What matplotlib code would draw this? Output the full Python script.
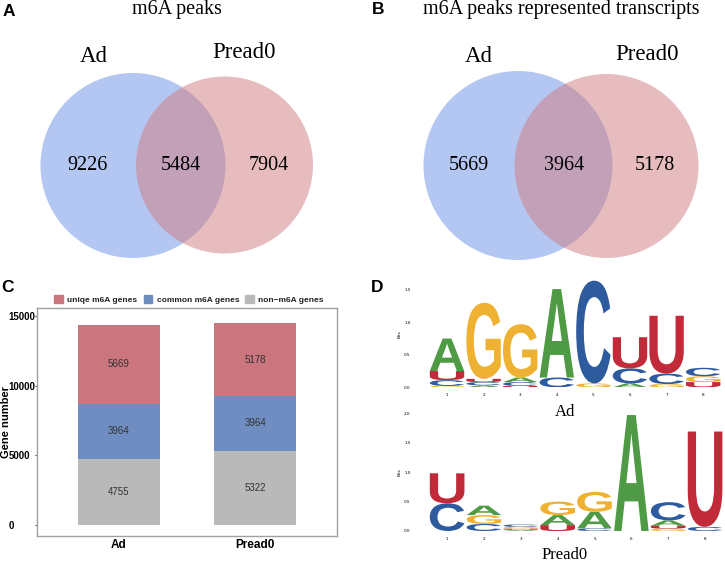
import numpy as np
import matplotlib
matplotlib.use("Agg")
import matplotlib.pyplot as plt
from matplotlib.patches import Circle, PathPatch, Patch
from matplotlib.textpath import TextPath
from matplotlib.font_manager import FontProperties
from matplotlib.transforms import Affine2D

# venn counts: only first set, shared, only second set
venn_sets = ["Ad", "Pread0"]
peaks = [9226, 5484, 7904]
transcripts = [5669, 3964, 5178]

# stacked bar (panel C)
groups = ["Ad", "Pread0"]
non_m6a = [4755, 5322]
common_m6a = [3964, 3964]
uniq_m6a = [5669, 5178]

# motif logos (panel D), bits per letter at positions 1..8
positions = [1, 2, 3, 4, 5, 6, 7, 8]
ad_A = [0.50, 0.03, 0.07, 1.36, 0.00, 0.06, 0.00, 0.00]
ad_C = [0.09, 0.05, 0.06, 0.15, 1.58, 0.23, 0.16, 0.13]
ad_G = [0.02, 1.17, 0.82, 0.00, 0.06, 0.00, 0.05, 0.09]
ad_U = [0.14, 0.05, 0.02, 0.00, 0.00, 0.48, 0.89, 0.08]
pre_A = [0.00, 0.16, 0.02, 0.17, 0.28, 1.97, 0.09, 0.00]
pre_C = [0.47, 0.12, 0.04, 0.00, 0.045, 0.00, 0.31, 0.07]
pre_G = [0.00, 0.15, 0.03, 0.23, 0.34, 0.00, 0.04, 0.00]
pre_U = [0.51, 0.00, 0.02, 0.10, 0.00, 0.00, 0.05, 1.62]

W, H = 725, 563
fig = plt.figure(figsize=(W / 100, H / 100), dpi=100)
SERIF = "Liberation Serif"
SANS = "Liberation Sans"

VENN_BLUE = "#b4c7f2"
VENN_RED = "#d17b7f"
BAR_RED = "#cb757e"
BAR_BLUE = "#6f8dc0"
BAR_GRAY = "#b9b9b9"
LOGO_COLORS = {"A": "#4f9a45", "C": "#2e5a9e", "G": "#efb132", "U": "#c12a39"}


def px_axes(x0, y0, x1, y1):
    return fig.add_axes([x0 / W, 1 - y1 / H, (x1 - x0) / W, (y1 - y0) / H])


def venn(x0, counts, title, c1, r1, c2, r2, lab1, lab2, num_x, title_x):
    ax = px_axes(x0, 0, x0 + 362, 280)
    ax.set_xlim(0, 362)
    ax.set_ylim(280, 0)
    ax.axis("off")
    ax.add_patch(Circle(c1, r1, fc=VENN_BLUE, ec="none"))
    ax.add_patch(Circle(c2, r2, fc=VENN_RED, alpha=0.5, ec="none"))
    ax.text(title_x, 14, title, family=SERIF, fontsize=14.5, ha="center", va="baseline")
    ax.text(*lab1, venn_sets[0], family=SERIF, fontsize=16.5, ha="center", va="center")
    ax.text(*lab2, venn_sets[1], family=SERIF, fontsize=16.5, ha="center", va="center")
    for xx, n in zip(num_x, counts):
        ax.text(xx, 166, str(n), family=SERIF, fontsize=14.5, ha="center", va="center")


venn(0, peaks, "m6A peaks", (133, 165.5), 92.5, (224.5, 165), 88.5,
     (94, 57), (244, 53), [88, 181, 269], 177)
venn(362, transcripts, "m6A peaks represented transcripts", (156, 165.5), 94.5,
     (244.5, 166), 92, (116.7, 56), (285, 55), [107.3, 201.7, 293.3], 199)

# ---- panel C ----
ax = px_axes(36.7, 308.3, 337.3, 536)
x = np.arange(1, len(groups) + 1)
bottom2 = np.array(non_m6a)
bottom3 = bottom2 + np.array(common_m6a)
b1 = ax.bar(x, non_m6a, 0.6, color=BAR_GRAY)
b2 = ax.bar(x, common_m6a, 0.6, bottom=bottom2, color=BAR_BLUE)
b3 = ax.bar(x, uniq_m6a, 0.6, bottom=bottom3, color=BAR_RED)
for bars in (b1, b2, b3):
    ax.bar_label(bars, label_type="center", fontsize=7, color="#333333", family=SANS)
ax.set_xlim(0.4, 2.6)
ax.set_ylim(-789, 15553)
ax.set_xticks(x)
ax.set_xticklabels(groups, fontsize=8.5, fontweight="bold", family=SANS)
ax.set_yticks([0, 5000, 10000, 15000])
ax.set_yticklabels(["0", "5000", "10000", "15000"], fontsize=7, fontweight="bold", family=SANS)
for lab in ax.get_yticklabels():
    lab.set_horizontalalignment("left")
ax.tick_params(axis="y", length=1.5, width=0.8, color="#555555", pad=19)
ax.tick_params(axis="x", length=0, pad=2)
for sp in ax.spines.values():
    sp.set_color("#a0a0a0")
    sp.set_linewidth(1.0)
ax.set_ylabel("Gene number", fontsize=8, fontweight="bold", family=SANS)
ax.yaxis.label.set_verticalalignment("center")
ax.yaxis.set_label_coords(-0.103, 0.5)
handles = [Patch(color=BAR_RED, label="uniqe m6A genes"),
           Patch(color=BAR_BLUE, label="common m6A genes"),
           Patch(color=BAR_GRAY, label="non\u2212m6A genes")]
leg = ax.legend(handles=handles, ncol=3, loc="lower center", bbox_to_anchor=(0.507, 1.005),
                frameon=False, prop=FontProperties(family=SANS, size=6, weight="bold"),
                handlelength=1.0, handleheight=1.0, handletextpad=0.55, columnspacing=0.75,
                borderaxespad=0.0)
for t in leg.get_texts():
    t.set_color("#222222")

# ---- panel D ----
fp = FontProperties(family=SANS, weight="bold")


def draw_letter(ax, ch, xc, y, h, w=0.94):
    tp = TextPath((0, 0), ch, size=1, prop=fp)
    bb = tp.get_extents()
    tr = (Affine2D().translate(-bb.x0, -bb.y0)
          .scale(w / bb.width, h / bb.height).translate(xc - w / 2, y))
    ax.add_patch(PathPatch(tr.transform_path(tp), fc=LOGO_COLORS[ch], ec="none"))


def logo(box, cols, ymax, yticks, name, name_y):
    ax = px_axes(*box)
    for i, p in enumerate(positions):
        stack = sorted([(cols[k][i], k) for k in "ACGU"])
        y = 0
        for h, k in stack:
            if h > 0:
                draw_letter(ax, k, p, y, h)
                y += h
    ax.set_xlim(0.5, 8.5)
    ax.set_ylim(0, ymax)
    ax.set_xticks(positions)
    ax.set_xticklabels([str(p) for p in positions], fontsize=3)
    ax.set_yticks(yticks)
    ax.set_yticklabels(["%.1f" % t for t in yticks], fontsize=3)
    ax.tick_params(length=0, pad=4)
    ax.tick_params(axis="y", pad=13)
    ax.set_ylabel("Bits", fontsize=3, labelpad=2)
    for sp in ax.spines.values():
        sp.set_visible(False)
    ax.set_facecolor("none")
    fig.text(565 / W, 1 - name_y / H, name, family=SERIF, fontsize=12, ha="center", va="center")


logo((428.7, 280, 721.5, 387.3), {"A": ad_A, "C": ad_C, "G": ad_G, "U": ad_U},
     1.65, [0.0, 0.5, 1.0, 1.5], "Ad", 412)
logo((428.7, 413.3, 723.5, 531), {"A": pre_A, "C": pre_C, "G": pre_G, "U": pre_U},
     2.0, [0.0, 0.5, 1.0, 1.5, 2.0], "Pread0", 555)

for lab, xx, yy in [("A", 9, 12), ("B", 378, 10), ("C", 8, 288), ("D", 377, 288)]:
    fig.text(xx / W, 1 - yy / H, lab, family=SANS, fontweight="bold", fontsize=12.5,
             ha="center", va="center")

fig.savefig("out.png", dpi=100)
